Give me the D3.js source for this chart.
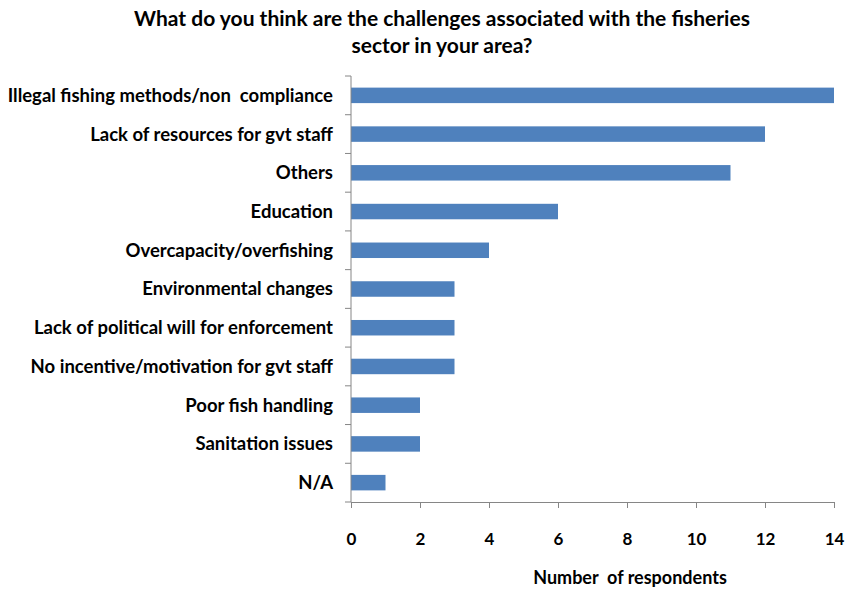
<!DOCTYPE html>
<html>
<head>
<meta charset="utf-8">
<script src="https://cdn.jsdelivr.net/npm/d3@7"></script>
<style>
  body { margin: 0; background: #fff; }
  text { font-family: Lato, "Open Sans", sans-serif; font-weight: bold; fill: #000; }
</style>
</head>
<body>
<div id="chart"></div>
<script>
// Categories top to bottom and their counts
const categories = [
  'Illegal fishing methods/non  compliance',
  'Lack of resources for gvt staff',
  'Others',
  'Education',
  'Overcapacity/overfishing',
  'Environmental changes',
  'Lack of political will for enforcement',
  'No incentive/motivation for gvt staff',
  'Poor fish handling',
  'Sanitation issues',
  'N/A'
];
const counts = [14, 12, 11, 6, 4, 3, 3, 3, 2, 2, 1];
const xTicks = [0, 2, 4, 6, 8, 10, 12, 14];
const titleLines = [
  'What do you think are the challenges associated with the fisheries',
  'sector in your area?'
];

let
w = 847,
h = 592,
padL = 351, // x of the zero line
padR = 834, // x of 14
plotTop = 76,
plotBottom = 502,
barColor = '#4F81BD',
axisColor = '#868686';

const data = categories.map((c, i) => ({cat: c, val: counts[i]}));

const x = d3.scaleLinear().domain([0, 14]).range([padL, padR]);
const y = d3.scaleBand().domain(categories).range([plotTop, plotBottom]).paddingInner(0.6).paddingOuter(0.3);

const svg = d3.select('#chart').append('svg').attr('width', w).attr('height', h);

// Title
svg.selectAll('.title').data(titleLines).enter().append('text')
  .attr('class', 'title')
  .attr('x', 442).attr('y', (d, i) => 26 + i * 27)
  .attr('text-anchor', 'middle')
  .style('font-size', '21px')
  .text(d => d);

// Bars
svg.selectAll('rect.bar').data(data).enter().append('rect')
  .attr('class', 'bar')
  .attr('x', x(0))
  .attr('y', d => y(d.cat))
  .attr('width', d => x(d.val) - x(0))
  .attr('height', y.bandwidth())
  .attr('fill', barColor);

// Y axis: line + ticks at band boundaries
const yAx = svg.append('g');
yAx.append('line').attr('x1', padL).attr('x2', padL).attr('y1', plotTop).attr('y2', plotBottom)
  .attr('stroke', axisColor);
const step = (plotBottom - plotTop) / categories.length;
yAx.selectAll('line.tk').data(d3.range(categories.length + 1)).enter().append('line')
  .attr('class', 'tk')
  .attr('x1', padL - 6).attr('x2', padL)
  .attr('y1', i => plotTop + i * step).attr('y2', i => plotTop + i * step)
  .attr('stroke', axisColor);
yAx.selectAll('text').data(categories).enter().append('text')
  .attr('x', padL - 18)
  .attr('y', d => y(d) + y.bandwidth() / 2)
  .attr('dy', '0.35em')
  .attr('text-anchor', 'end')
  .style('white-space', 'pre')
  .style('font-size', '18.5px')
  .text(d => d);

// X axis
const xAxis = d3.axisBottom(x).tickValues(xTicks).tickSize(6).tickPadding(25);
const gx = svg.append('g').attr('transform', 'translate(0,' + plotBottom + ')').call(xAxis);
gx.select('.domain').attr('stroke', axisColor);
gx.selectAll('.tick line').attr('stroke', axisColor);
gx.selectAll('.tick text').style('font-size', '17px').style('font-family', 'Lato, sans-serif');

// Axis title
svg.append('text')
  .attr('x', 630).attr('y', 584)
  .attr('text-anchor', 'middle')
  .style('white-space', 'pre')
  .style('font-size', '18px')
  .text('Number  of respondents');
</script>
</body>
</html>
